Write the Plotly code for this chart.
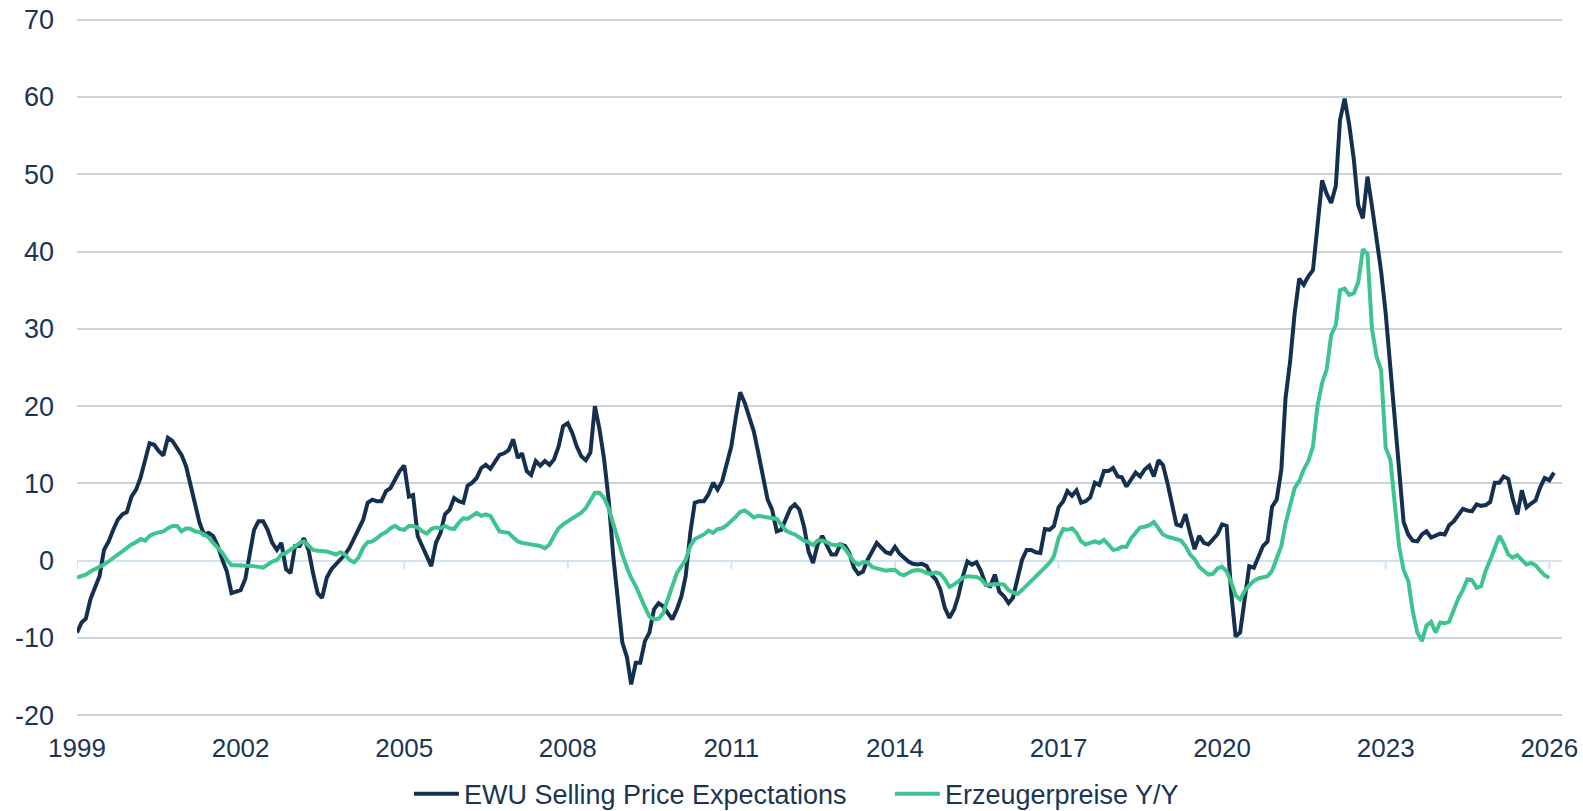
import pandas as pd
import plotly.graph_objects as go

# EWU selling price expectations, monthly from Jan 1999
selling_price_expectations = [
    -9.3, -8.0, -7.5, -5.0, -3.5, -2.0, 1.4, 2.5, 4.0, 5.3, 6.0, 6.3,
    8.3, 9.2, 10.7, 13.1, 15.2, 15.0, 14.2, 13.6, 15.9, 15.5, 14.6, 13.7,
    12.2, 9.6, 7.0, 4.9, 3.4, 3.6, 3.2, 1.9, 0.1, -1.4, -4.2, -4.0,
    -3.8, -2.4, 0.6, 4.0, 5.1, 5.1, 4.0, 2.3, 1.4, 2.3, -1.1, -1.6,
    1.9, 1.9, 2.9, 1.4, -1.6, -4.2, -4.8, -2.2, -1.1, -0.5, 0.1, 0.8,
    1.7, 2.9, 4.2, 5.3, 7.5, 7.9, 7.7, 7.7, 9.0, 9.4, 10.5, 11.6,
    12.3, 8.3, 8.5, 3.2, 1.9, 0.6, -0.7, 2.3, 3.6, 6.0, 6.6, 8.1,
    7.7, 7.5, 9.7, 10.1, 10.7, 12.0, 12.4, 11.9, 12.9, 13.7, 13.9, 14.3,
    15.7, 13.3, 13.9, 11.6, 11.1, 12.9, 12.3, 12.9, 12.4, 13.1, 14.8, 17.4,
    17.8, 16.5, 14.8, 13.5, 13.0, 14.0, 20.0, 17.0, 13.1, 7.9, 0.6, -5.5,
    -10.6, -12.5, -16.0, -13.2, -13.2, -10.4, -9.3, -6.3, -5.5, -5.9, -6.8, -7.6,
    -6.3, -4.6, -2.0, 3.6, 7.5, 7.7, 7.7, 8.6, 10.1, 9.2, 10.3, 12.6,
    14.8, 18.7, 21.8, 20.4, 18.7, 16.7, 13.9, 10.9, 7.9, 6.6, 3.8, 4.0,
    5.3, 6.8, 7.3, 6.6, 4.5, 1.2, -0.3, 2.1, 3.2, 2.1, 0.8, 0.8,
    2.1, 1.9, 1.0, -0.9, -1.7, -1.4, 0.1, 1.2, 2.3, 1.7, 1.1, 0.9,
    1.8, 0.9, 0.4, -0.1, -0.4, -0.5, -0.4, -0.7, -1.8, -2.4, -3.7, -6.1,
    -7.4, -6.3, -4.6, -2.0, -0.1, -0.5, -0.2, -1.4, -3.1, -3.3, -1.8, -4.0,
    -4.6, -5.5, -4.8, -2.2, 0.1, 1.4, 1.4, 1.1, 1.0, 4.1, 4.0, 4.5,
    6.9, 7.7, 9.0, 8.4, 9.1, 7.5, 7.7, 8.2, 10.1, 9.8, 11.6, 11.6,
    12.0, 10.9, 10.8, 9.6, 10.5, 11.4, 10.9, 11.8, 12.3, 10.9, 13.0, 12.4,
    10.0, 7.5, 4.7, 4.5, 6.0, 3.6, 1.5, 3.2, 2.3, 2.1, 2.8, 3.4,
    4.7, 4.5, -3.9, -9.8, -9.3, -4.6, -0.7, -0.9, 0.6, 1.9, 2.5, 7.0,
    7.9, 11.8, 21.0, 25.8, 32.0, 36.5, 35.7, 36.8, 37.6, 43.0, 49.2, 47.5,
    46.3, 48.5, 57.0, 59.8, 56.5, 52.0, 46.0, 44.3, 49.7, 45.9, 41.5, 37.5,
    32.0, 24.5, 18.5, 11.8, 5.0, 3.4, 2.6, 2.5, 3.4, 3.8, 3.0, 3.2,
    3.5, 3.4, 4.6, 5.1, 6.0, 6.7, 6.5, 6.4, 7.3, 7.1, 7.2, 7.6,
    10.1, 10.1, 10.9, 10.6, 8.0, 6.0, 9.1, 6.9, 7.4, 7.8, 9.5, 10.7,
    10.4, 11.4,
]

# Erzeugerpreise Y/Y, monthly from Jan 1999
producer_prices_yoy = [
    -2.2, -2.0, -1.8, -1.4, -1.1, -0.9, -0.5, -0.1, 0.4, 0.8, 1.2, 1.7,
    2.1, 2.4, 2.8, 2.6, 3.2, 3.5, 3.6, 3.8, 4.2, 4.5, 4.5, 3.8,
    4.2, 4.1, 3.8, 3.7, 3.4, 3.0, 2.3, 1.7, 1.0, 0.1, -0.6, -0.6,
    -0.6, -0.6, -0.7, -0.7, -0.8, -0.9, -0.5, -0.1, 0.1, 0.8, 1.0, 1.4,
    1.9, 2.3, 2.5, 1.9, 1.4, 1.3, 1.3, 1.2, 1.0, 0.8, 1.1, 0.8,
    0.1, -0.2, 0.4, 1.7, 2.4, 2.5, 2.9, 3.4, 3.7, 4.2, 4.5, 4.1,
    4.0, 4.5, 4.5, 4.3, 3.8, 3.5, 4.1, 4.3, 4.2, 4.5, 4.2, 4.1,
    4.9, 5.5, 5.4, 5.8, 6.2, 5.8, 6.0, 5.8, 4.9, 3.8, 3.7, 3.6,
    3.0, 2.5, 2.3, 2.2, 2.0, 2.0, 1.9, 1.6, 2.1, 3.2, 4.2, 4.7,
    5.1, 5.4, 5.8, 6.2, 6.8, 7.7, 8.8, 8.8, 8.1, 6.8, 4.7, 2.5,
    0.8, -0.9, -2.2, -3.3, -4.8, -6.0, -7.2, -7.6, -7.5, -6.8, -5.0, -3.3,
    -1.6, -0.7, 0.1, 1.9, 2.8, 3.1, 3.4, 3.9, 3.6, 4.1, 4.2, 4.6,
    5.1, 5.7, 6.3, 6.5, 6.1, 5.6, 5.8, 5.7, 5.7, 5.5, 5.4, 4.7,
    3.9, 3.6, 3.4, 3.0, 2.6, 2.4, 2.0, 2.6, 2.6, 2.4, 2.1, 2.0,
    2.1, 1.5, 0.8, -0.1, -0.5, -0.2, -0.2, -0.8, -1.0, -1.2, -1.3, -1.2,
    -1.2, -1.7, -1.9, -1.6, -1.3, -1.2, -1.3, -1.6, -1.7, -1.5, -1.7, -2.4,
    -3.4, -3.1, -2.7, -2.2, -2.0, -2.0, -2.1, -2.4, -3.1, -3.1, -3.0, -3.0,
    -3.1, -3.8, -4.1, -4.3, -3.8, -3.2, -2.7, -2.1, -1.6, -0.9, -0.3, 0.6,
    2.9, 4.1, 4.0, 4.2, 3.6, 2.5, 2.1, 2.3, 2.5, 2.3, 2.7, 2.1,
    1.4, 1.5, 1.8, 1.8, 2.9, 3.6, 4.3, 4.4, 4.6, 5.0, 4.2, 3.4,
    3.1, 2.9, 2.8, 2.6, 1.9, 0.8, 0.2, -0.8, -1.3, -1.8, -1.7, -1.0,
    -0.8, -1.4, -2.7, -4.5, -5.0, -3.9, -3.2, -2.6, -2.3, -2.1, -2.0, -1.3,
    0.4, 1.9, 4.8, 7.2, 9.4, 10.3, 11.8, 12.9, 14.8, 20.0, 23.0, 24.7,
    29.2, 30.5, 35.0, 35.2, 34.4, 34.6, 36.0, 40.3, 39.7, 30.0, 26.4, 24.7,
    14.6, 13.1, 7.5, 1.8, -1.2, -2.6, -6.5, -9.3, -10.4, -8.4, -7.9, -9.3,
    -8.0, -8.1, -7.9, -6.2, -4.9, -3.8, -2.4, -2.5, -3.5, -3.3, -1.3, 0.1,
    1.5, 3.2, 2.2, 0.8, 0.4, 0.7, 0.1, -0.5, -0.3, -0.6, -1.3, -1.9,
    -2.2,
]

tick_years = list(range(1999, 2027, 3))
y_ticks = list(range(-20, 71, 10))

DARK = "#15304f"
GREEN = "#3ec48f"
TEXT = "#1c3556"
GRID = "#cbd2dc"
ZERO = "#d4e2f0"
FONT = "Liberation Sans, Arial, sans-serif"

dates_spe = pd.date_range("1999-01-01", periods=len(selling_price_expectations), freq="MS")
dates_ppi = pd.date_range("1999-01-01", periods=len(producer_prices_yoy), freq="MS")
tick_dates = [pd.Timestamp(f"{y}-01-01") for y in tick_years]

fig = go.Figure()
fig.add_trace(
    go.Scatter(
        x=dates_spe,
        y=selling_price_expectations,
        mode="lines",
        name="EWU Selling Price Expectations",
        line=dict(color=DARK, width=4),
    )
)
fig.add_trace(
    go.Scatter(
        x=dates_ppi,
        y=producer_prices_yoy,
        mode="lines",
        name="Erzeugerpreise Y/Y",
        line=dict(color=GREEN, width=4),
    )
)

# small year ticks hanging off the zero line, as in the original
for d in tick_dates:
    fig.add_shape(
        type="line", xref="x", yref="y", x0=d, x1=d, y0=0, y1=-1.05,
        line=dict(color=ZERO, width=2), layer="below",
    )

fig.update_layout(
    width=1583,
    height=811,
    margin=dict(l=77, r=21, t=12, b=88, autoexpand=False),
    paper_bgcolor="white",
    plot_bgcolor="white",
    font=dict(family=FONT, color=TEXT, size=26),
    showlegend=True,
    legend=dict(
        orientation="h",
        x=0.2235,
        xanchor="left",
        y=-0.1,
        yanchor="middle",
        font=dict(size=27, color=TEXT),
        itemwidth=45,
        entrywidth=421,
        entrywidthmode="pixels",
    ),
)
fig.update_xaxes(
    type="date",
    range=[pd.Timestamp("1999-01-01"), pd.Timestamp("2026-03-27")],
    tickvals=tick_dates,
    ticktext=[str(y) for y in tick_years],
    showgrid=False,
    zeroline=False,
    showline=False,
    ticks="",
    automargin=False,
    ticklabelstandoff=7,
    ticklabeloverflow="allow",
    tickfont=dict(size=26, color=TEXT),
)
fig.update_yaxes(
    range=[-21, 71],
    tickvals=y_ticks,
    ticktext=[str(v) for v in y_ticks],
    showgrid=True,
    gridcolor=GRID,
    gridwidth=2,
    zeroline=True,
    zerolinecolor=ZERO,
    zerolinewidth=2,
    showline=False,
    ticks="",
    automargin=False,
    ticklabelstandoff=22,
    ticklabeloverflow="allow",
    tickfont=dict(size=27, color=TEXT),
)

# drop the default 8px body margin so the figure fills the window exactly
fig.write_html(
    "out.html",
    config={"displayModeBar": False},
    post_script="document.body.style.margin = '0px';",
)
